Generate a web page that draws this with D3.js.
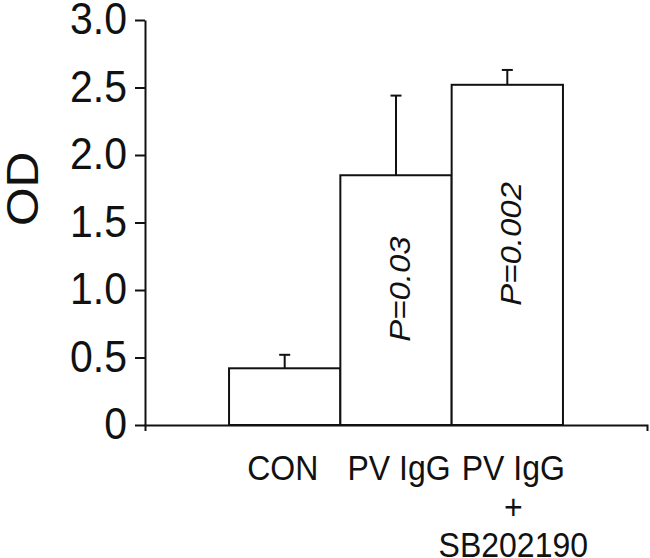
<!DOCTYPE html>
<html lang="en">
<head>
    <meta charset="UTF-8">
    <title>OD bar chart</title>
    <style>
        html, body {
            margin: 0;
            padding: 0;
            background-color: #fff;
            font-family: 'Liberation Sans', Arial, sans-serif;
        }
        svg { display: block; }
    </style>
</head>
<body>
    <div id="graph"></div>
    <script src="https://d3js.org/d3.v7.min.js"></script>
    <script>
        // DATA
        const groups = ["CON", "PV IgG", "PV IgG + SB202190"];
        const groupLines = [["CON"], ["PV IgG"], ["PV IgG", "+", "SB202190"]];
        const means = [0.42, 1.85, 2.52];
        const errors = [0.10, 0.59, 0.11];
        const pLabels = [null, "0.03", "0.002"];
        const yTicks = [0, 0.5, 1.0, 1.5, 2.0, 2.5, 3.0];

        const width = 650, height = 558;
        const ink = "#111";
        const stretch = 1.1; // the original figure is slightly taller than wide

        const svg = d3.select("#graph")
            .append("svg")
            .attr("width", width)
            .attr("height", height);

        // SCALES
        const y = d3.scaleLinear().domain([0, 3]).range([425, 20]);
        const x = d3.scaleBand()
            .domain(groups)
            .range([145, 647])
            .paddingInner(0)
            .paddingOuter(0.755);

        // Y AXIS
        const yAxis = d3.axisLeft(y)
            .tickValues(yTicks)
            .tickFormat(d => d === 0 ? "0" : d.toFixed(1))
            .tickSizeInner(10)
            .tickSizeOuter(0)
            .tickPadding(8);
        const gy = svg.append("g")
            .attr("transform", "translate(145,0)")
            .call(yAxis);
        gy.selectAll("text")
            .style("font-size", "41px")
            .style("font-family", "'Liberation Sans', Arial, sans-serif")
            .attr("dy", "0.3em")
            .attr("transform", `scale(1,${stretch})`)
            .attr("fill", ink);

        // X AXIS (line only, labels drawn below)
        const xAxis = d3.axisBottom(x)
            .tickFormat("")
            .tickSizeInner(0)
            .tickSizeOuter(6);
        svg.append("g")
            .attr("transform", "translate(0,425)")
            .call(xAxis);

        svg.selectAll(".domain, .tick line")
            .attr("stroke", ink)
            .attr("stroke-width", 2);

        // BARS
        svg.selectAll("rect.bar")
            .data(groups).enter()
            .append("rect")
            .attr("class", "bar")
            .attr("x", d => x(d))
            .attr("y", (d, i) => y(means[i]))
            .attr("width", x.bandwidth())
            .attr("height", (d, i) => y(0) - y(means[i]))
            .attr("fill", "#fff")
            .attr("stroke", ink)
            .attr("stroke-width", 2);

        // ERROR BARS (upper only)
        const eb = svg.selectAll("g.err")
            .data(groups).enter()
            .append("g")
            .attr("class", "err");
        eb.append("line")
            .attr("x1", d => x(d) + x.bandwidth() / 2)
            .attr("x2", d => x(d) + x.bandwidth() / 2)
            .attr("y1", (d, i) => y(means[i]))
            .attr("y2", (d, i) => y(means[i] + errors[i]))
            .attr("stroke", ink)
            .attr("stroke-width", 2);
        eb.append("line")
            .attr("x1", d => x(d) + x.bandwidth() / 2 - 5.5)
            .attr("x2", d => x(d) + x.bandwidth() / 2 + 5.5)
            .attr("y1", (d, i) => y(means[i] + errors[i]))
            .attr("y2", (d, i) => y(means[i] + errors[i]))
            .attr("stroke", ink)
            .attr("stroke-width", 2);

        // P VALUES (rotated, inside bars)
        groups.forEach((g, i) => {
            if (!pLabels[i]) return;
            const cx = x(g) + x.bandwidth() / 2 + 3;
            const cy = y(means[i] / 2) - 11;
            const t = svg.append("text")
                .attr("transform", `translate(${cx},${cy}) rotate(-90) scale(${stretch},1)`)
                .attr("text-anchor", "middle")
                .attr("dy", "0.36em")
                .style("font-size", "30px")
                .style("font-style", "italic")
                .attr("fill", ink);
            t.append("tspan").text("P");
            t.append("tspan").text("=" + pLabels[i]);
        });

        // CATEGORY LABELS
        const labelNudge = [-2, 3, 6];
        groups.forEach((g, i) => {
            const cx = x(g) + x.bandwidth() / 2 + labelNudge[i];
            groupLines[i].forEach((line, j) => {
                svg.append("text")
                    .attr("transform", `translate(${cx},${480 + j * 38.5}) scale(1,${stretch})`)
                    .attr("text-anchor", "middle")
                    .style("font-size", "32px")
                    .attr("fill", ink)
                    .text(line);
            });
        });

        // Y AXIS TITLE
        svg.append("text")
            .attr("transform", `translate(38,189) rotate(-90) scale(${stretch},1)`)
            .attr("text-anchor", "middle")
            .style("font-size", "45px")
            .attr("fill", ink)
            .text("OD");
    </script>
</body>
</html>
